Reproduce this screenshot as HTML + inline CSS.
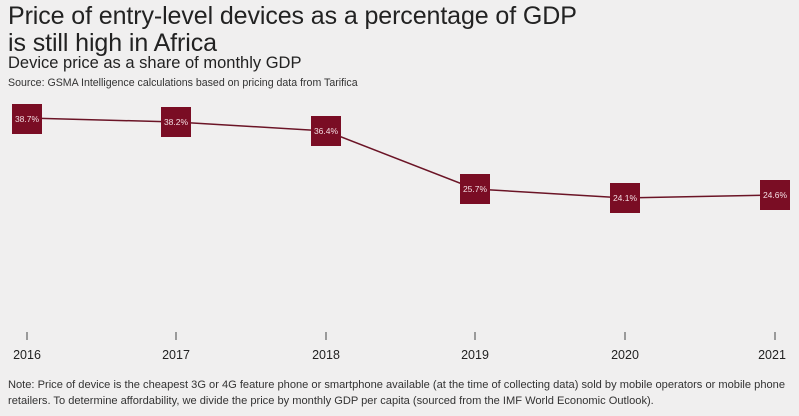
<!DOCTYPE html>
<html><head><style>
body{margin:0;width:799px;height:416px;background:#f0efef;font-family:"Liberation Sans",sans-serif;color:#222;position:relative;overflow:hidden}
.t{position:absolute;left:8px;top:3px;font-size:25px;line-height:27px;color:#222;letter-spacing:-0.1px}
.s{position:absolute;left:8px;top:54px;font-size:16.5px;color:#222}
.src{position:absolute;left:8px;top:77px;font-size:10.6px;color:#333}
.n{position:absolute;left:8px;top:377px;font-size:11.1px;line-height:16px;color:#333;white-space:nowrap}
</style></head><body>
<div class="t">Price of entry-level devices as a percentage of GDP<br>is still high in Africa</div>
<div class="s">Device price as a share of monthly GDP</div>
<div class="src">Source: GSMA Intelligence calculations based on pricing data from Tarifica</div>
<svg width="799" height="416" style="position:absolute;left:0;top:0">
<polyline points="27,118 176,122 326,131 475,189 625,198 775,195" fill="none" stroke="#6b1426" stroke-width="1.5"/>
<g fill="#7a0d24">
<rect x="12" y="104" width="30" height="30"/><rect x="161" y="107" width="30" height="30"/><rect x="311" y="116" width="30" height="30"/>
<rect x="460" y="174" width="30" height="30"/><rect x="610" y="183" width="30" height="30"/><rect x="760" y="180" width="30" height="30"/>
</g>
<g fill="#f3dde2" font-size="8.5" text-anchor="middle" font-family="Liberation Sans">
<text x="27" y="122">38.7%</text><text x="176" y="125">38.2%</text><text x="326" y="134">36.4%</text>
<text x="475" y="192">25.7%</text><text x="625" y="201">24.1%</text><text x="775" y="198">24.6%</text>
</g>
<g stroke="#444" stroke-width="1">
<line x1="27" y1="332" x2="27" y2="340"/><line x1="176" y1="332" x2="176" y2="340"/><line x1="326" y1="332" x2="326" y2="340"/>
<line x1="475" y1="332" x2="475" y2="340"/><line x1="625" y1="332" x2="625" y2="340"/><line x1="775" y1="332" x2="775" y2="340"/>
</g>
<g fill="#222" font-size="12.5" text-anchor="middle" font-family="Liberation Sans">
<text x="27" y="359">2016</text><text x="176" y="359">2017</text><text x="326" y="359">2018</text>
<text x="475" y="359">2019</text><text x="625" y="359">2020</text><text x="772" y="359">2021</text>
</g>
</svg>
<div class="n">Note: Price of device is the cheapest 3G or 4G feature phone or smartphone available (at the time of collecting data) sold by mobile operators or mobile phone<br>retailers. To determine affordability, we divide the price by monthly GDP per capita (sourced from the IMF World Economic Outlook).</div>
</body></html>
